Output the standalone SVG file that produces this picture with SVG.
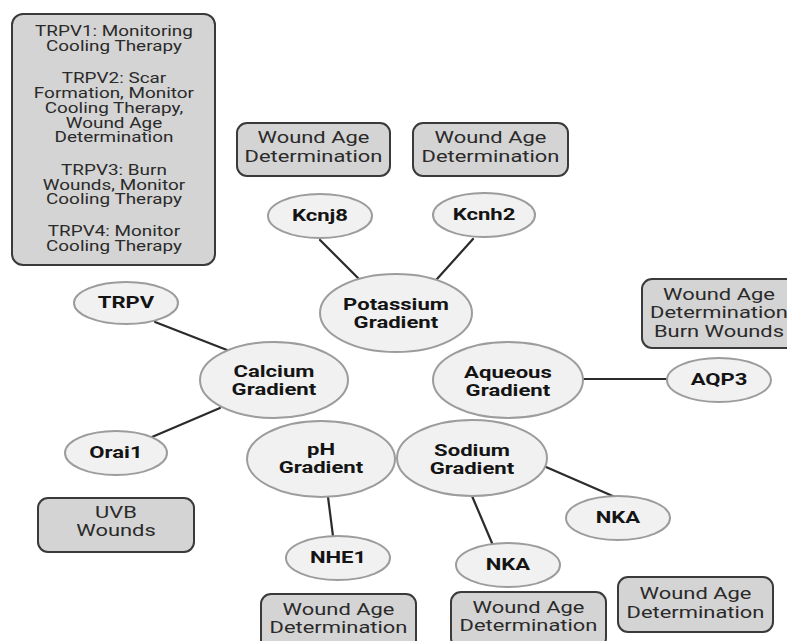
<svg xmlns="http://www.w3.org/2000/svg" width="787" height="641" viewBox="0 0 787 641">
<style>
.box{fill:#d4d4d4;stroke:#3a3a3a;stroke-width:2}
.ell{fill:#f1f1f1;stroke:#9c9c9c;stroke-width:2}
.con line{stroke:#2b2b2b;stroke-width:2.2;stroke-linecap:round}
text{font-family:Roboto,"Liberation Sans",Arial,sans-serif;text-anchor:middle;transform-box:fill-box;transform-origin:center}
.lbl{font-size:16px;font-weight:bold;fill:#141414;transform:scaleX(1.38)}
.bt{font-size:16px;fill:#2a2a2a;transform:scaleX(1.37)}
.tt{font-size:14px;fill:#2a2a2a;transform:scaleX(1.35)}
</style>
<rect width="787" height="641" fill="#fff"/>
<g class="con">
<line x1="320" y1="240" x2="358" y2="278"/>
<line x1="473" y1="239" x2="437" y2="279"/>
<line x1="155" y1="322" x2="227" y2="350"/>
<line x1="220" y1="408" x2="152" y2="437"/>
<line x1="583" y1="379" x2="668" y2="379"/>
<line x1="328" y1="497" x2="333" y2="536"/>
<line x1="546" y1="467" x2="615" y2="497"/>
<line x1="472" y1="496" x2="492" y2="543"/>
</g>
<g id="trpv-notes">
<rect class="box" x="12" y="14" width="203" height="251" rx="11"/>
<text class="tt" x="114" y="36">TRPV1: Monitoring</text>
<text class="tt" x="114" y="50.7">Cooling Therapy</text>
<text class="tt" x="114" y="83.5">TRPV2: Scar</text>
<text class="tt" x="114" y="98.2">Formation, Monitor</text>
<text class="tt" x="114" y="112.9">Cooling Therapy,</text>
<text class="tt" x="114" y="127.6">Wound Age</text>
<text class="tt" x="114" y="142.3">Determination</text>
<text class="tt" x="114" y="175">TRPV3: Burn</text>
<text class="tt" x="114" y="189.7">Wounds, Monitor</text>
<text class="tt" x="114" y="204.4">Cooling Therapy</text>
<text class="tt" x="114" y="236">TRPV4: Monitor</text>
<text class="tt" x="114" y="250.7">Cooling Therapy</text>
</g>
<g id="box-kcnj8">
<rect class="box" x="237" y="123" width="153" height="53" rx="10"/>
<text class="bt" x="313.5" y="143.5">Wound Age</text>
<text class="bt" x="313.5" y="162.5">Determination</text>
</g>
<g id="box-kcnh2">
<rect class="box" x="413" y="123" width="155" height="53" rx="10"/>
<text class="bt" x="490.5" y="143.5">Wound Age</text>
<text class="bt" x="490.5" y="162.5">Determination</text>
</g>
<g id="box-aqp3">
<rect class="box" x="642" y="279" width="156" height="69" rx="10"/>
<text class="bt" x="719" y="300.5">Wound Age</text>
<text class="bt" x="719" y="318.5">Determination</text>
<text class="bt" x="719" y="337.5">Burn Wounds</text>
</g>
<g id="box-orai1">
<rect class="box" x="38" y="498" width="156" height="54" rx="10"/>
<text class="bt" x="116" y="518.5">UVB</text>
<text class="bt" x="116" y="536.5">Wounds</text>
</g>
<g id="box-nhe1">
<rect class="box" x="261" y="594" width="155" height="56" rx="10"/>
<text class="bt" x="338.5" y="615.5">Wound Age</text>
<text class="bt" x="338.5" y="633.5">Determination</text>
</g>
<g id="box-nka-bottom">
<rect class="box" x="451" y="592" width="155" height="56" rx="10"/>
<text class="bt" x="528.5" y="613.5">Wound Age</text>
<text class="bt" x="528.5" y="631.5">Determination</text>
</g>
<g id="box-nka-right">
<rect class="box" x="618" y="577" width="155" height="55" rx="10"/>
<text class="bt" x="695.5" y="599.5">Wound Age</text>
<text class="bt" x="695.5" y="618.5">Determination</text>
</g>
<g id="kcnj8"><ellipse class="ell" cx="320" cy="216" rx="52" ry="22"/><text class="lbl" x="320" y="221.5">Kcnj8</text></g>
<g id="kcnh2"><ellipse class="ell" cx="484" cy="215" rx="51" ry="22"/><text class="lbl" x="484" y="220.5">Kcnh2</text></g>
<g id="potassium"><ellipse class="ell" cx="396" cy="313" rx="76" ry="39"/><text class="lbl" x="396" y="310">Potassium</text><text class="lbl" x="396" y="328">Gradient</text></g>
<g id="trpv"><ellipse class="ell" cx="126" cy="303" rx="52" ry="21"/><text class="lbl" x="126" y="308.5">TRPV</text></g>
<g id="calcium"><ellipse class="ell" cx="274" cy="380" rx="74" ry="38"/><text class="lbl" x="274" y="377">Calcium</text><text class="lbl" x="274" y="395">Gradient</text></g>
<g id="aqueous"><ellipse class="ell" cx="508" cy="380" rx="75" ry="38"/><text class="lbl" x="508" y="378">Aqueous</text><text class="lbl" x="508" y="396">Gradient</text></g>
<g id="aqp3"><ellipse class="ell" cx="719" cy="380" rx="52" ry="22"/><text class="lbl" x="719" y="385.5">AQP3</text></g>
<g id="orai1"><ellipse class="ell" cx="116" cy="453" rx="51" ry="22"/><text class="lbl" x="116" y="458.5">Orai1</text></g>
<g id="ph"><ellipse class="ell" cx="321" cy="459" rx="74" ry="38"/><text class="lbl" x="321" y="455.5">pH</text><text class="lbl" x="321" y="473.5">Gradient</text></g>
<g id="sodium"><ellipse class="ell" cx="472" cy="458" rx="75" ry="38"/><text class="lbl" x="472" y="456.5">Sodium</text><text class="lbl" x="472" y="474.5">Gradient</text></g>
<g id="nka-right"><ellipse class="ell" cx="618" cy="518" rx="52" ry="22"/><text class="lbl" x="618" y="523.5">NKA</text></g>
<g id="nhe1"><ellipse class="ell" cx="338" cy="558" rx="52" ry="22"/><text class="lbl" x="338" y="563.5">NHE1</text></g>
<g id="nka-bottom"><ellipse class="ell" cx="508" cy="565" rx="52" ry="22"/><text class="lbl" x="508" y="570.5">NKA</text></g>
</svg>
